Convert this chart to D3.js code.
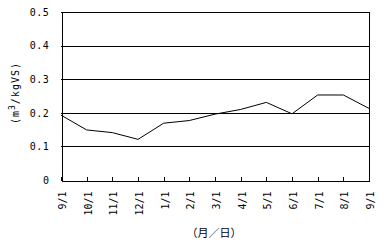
<!DOCTYPE html>
<html><head><meta charset="utf-8">
<script src="https://cdn.jsdelivr.net/npm/d3@7"></script>
<style>html,body{margin:0;padding:0;background:#fff;}</style>
</head><body>
<svg id="c" width="388" height="244"></svg>
<script>
const categories = ["9/1","10/1","11/1","12/1","1/1","2/1","3/1","4/1","5/1","6/1","7/1","8/1","9/1 "];
const values = [0.193,0.149,0.141,0.121,0.169,0.177,0.196,0.210,0.231,0.197,0.253,0.253,0.213];
const yTicks = [0,0.1,0.2,0.3,0.4,0.5];
const yTickLabels = ["0","0.1","0.2","0.3","0.4","0.5"];

const svg = d3.select("#c");
const L = 61, R = 369, T = 12, B = 180;
const x = d3.scalePoint().domain(categories).range([L, R]);
const y = d3.scaleLinear().domain([0, 0.5]).range([B, T]);
const font = "'DejaVu Sans Mono', monospace";

// gridlines
svg.append("g").selectAll("line").data(yTicks.filter(d => d > 0)).join("line")
  .attr("x1", L).attr("x2", R)
  .attr("y1", d => Math.round(y(d)) + 0.5).attr("y2", d => Math.round(y(d)) + 0.5)
  .attr("stroke", "#000").attr("stroke-width", 1).attr("shape-rendering", "crispEdges");

// right border
svg.append("line").attr("x1", R + 0.5).attr("x2", R + 0.5).attr("y1", Math.round(T)).attr("y2", B + 1)
  .attr("stroke", "#000").attr("shape-rendering", "crispEdges");

// y axis
const yAxis = d3.axisLeft(y).tickValues(yTicks).tickSize(0).tickFormat((d, i) => yTickLabels[i]);
const gy = svg.append("g").attr("transform", `translate(${L + 0.5},0)`).call(yAxis);
gy.select(".domain").attr("stroke", "#000").attr("shape-rendering", "crispEdges");
gy.selectAll("text").attr("x", -12).attr("font-family", font).attr("font-size", 10)
  .attr("letter-spacing", 0.6).attr("fill", "#000");

// x axis
const xAxis = d3.axisBottom(x).tickSizeInner(-4).tickSizeOuter(0).tickFormat(d => d.trim());
const gx = svg.append("g").attr("transform", `translate(0,${B + 0.5})`).call(xAxis);
gx.select(".domain").attr("stroke", "#000").attr("shape-rendering", "crispEdges");
gx.selectAll(".tick line").attr("stroke", "#000").attr("shape-rendering", "crispEdges");
gx.selectAll("text")
  .attr("font-family", font).attr("font-size", 10).attr("fill", "#000")
  .attr("text-anchor", "end").attr("dy", "0.35em").attr("y", 0)
  .attr("transform", "translate(1,11) rotate(-90)");

// line
svg.append("path").datum(values)
  .attr("d", d3.line().x((d, i) => x(categories[i])).y(d => y(d)))
  .attr("fill", "none").attr("stroke", "#000").attr("stroke-width", 1);

// y axis title
const yt = svg.append("text")
  .attr("transform", "translate(15,93) rotate(-90)")
  .attr("text-anchor", "middle").attr("dy", "0.35em")
  .attr("font-family", font).attr("font-size", 10).attr("fill", "#000")
  .attr("letter-spacing", 1);
yt.append("tspan").text("(m");
yt.append("tspan").attr("font-size", 8).attr("dy", -4).text("3");
yt.append("tspan").attr("dy", 4).text("/kgVS)");

// x axis title
svg.append("text").attr("x", 214).attr("y", 233)
  .attr("text-anchor", "middle").attr("dy", "0.35em")
  .attr("font-family", "'Noto Sans CJK JP', sans-serif").attr("font-size", 11).attr("fill", "#000")
  .text("（月／日）");
</script>
</body></html>
